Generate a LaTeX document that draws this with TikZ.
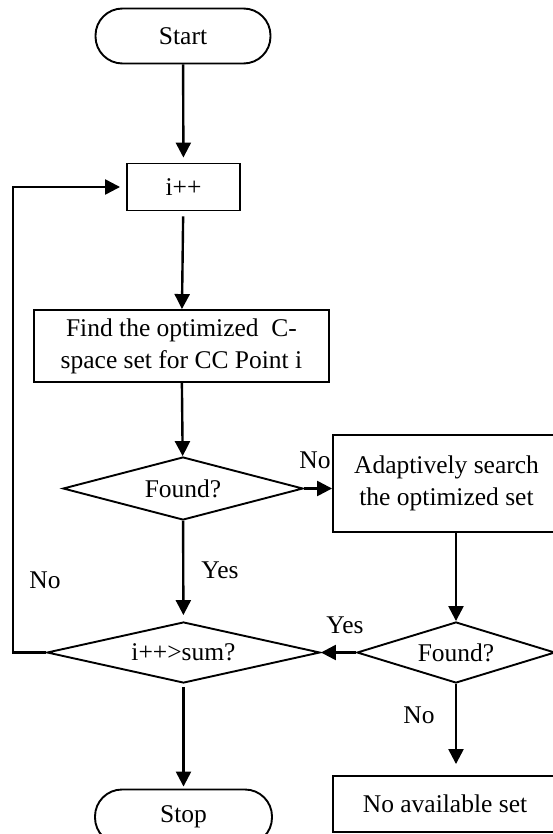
\documentclass[tikz,border=0pt]{standalone}
\usepackage{fontspec}
\setmainfont{Liberation Serif}
\usetikzlibrary{shapes.geometric,arrows.meta,calc}
\newcommand{\fs}{\fontsize{25.5}{32}\selectfont}
\tikzset{
  base/.style={draw, line width=1.9pt, font=\fs, inner sep=0pt, align=center},
  term/.style={base, rounded corners=27pt, minimum width=175pt, minimum height=55pt},
  proc/.style={base, rectangle},
  dec/.style={base, diamond, aspect=3.8},
  arr/.style={-{Triangle[length=15pt,width=15pt]}, line width=2.4pt},
  lbl/.style={font=\fs, inner sep=0pt}
}
\begin{document}
\begin{tikzpicture}[x=1pt,y=-1pt]
\useasboundingbox (0,0) rectangle (553,834);
\clip (0,0) rectangle (553,834);
\fill[white] (0,0) rectangle (553,834);

\node[term] (start) at (183,36) {Start};
\node[proc, minimum width=113pt, minimum height=47pt] (inc) at (183.5,187) {i++};
\node[proc, minimum width=295pt, minimum height=72pt] (find) at (181.5,346) {Find the optimized~~C-\\space set for CC Point i};
\node[dec, minimum width=240pt, minimum height=63pt] (d1) at (183,488.5) {Found?};
\node[proc, minimum width=227pt, minimum height=97pt] (adapt) at (446.5,483.5) {Adaptively search\\the optimized set};
\node[dec, minimum width=198pt, minimum height=61pt] (d2) at (456,652.5) {Found?};
\node[dec, minimum width=273pt, minimum height=61pt, aspect=4.5] (d3) at (183.5,652.5) {i++>sum?};
\node[proc, minimum width=224pt, minimum height=56pt] (none) at (445,804) {No available set};
\node[term, minimum width=177pt] (stop) at (183.5,817) {Stop};

\coordinate (lb) at (13,652.5);
\coordinate (lt) at (13,187);

\draw[arr, shorten >=5pt] (start) -- (inc);
\draw[arr, shorten <=5pt] (inc) -- (find);
\draw[arr] (find) -- (d1);
\draw[arr] (d1.east) -- (adapt.west |- d1.east);
\draw[arr, shorten >=6pt] (d1) -- (d3);
\draw[arr] (d2.north |- adapt.south) -- (d2.north);
\draw[arr] (d2.west) -- (d3.east);
\draw[arr, shorten >=11pt] (d2.south) -- (d2.south |- none.north);
\draw[arr, shorten <=3pt, shorten >=2pt] (d3) -- (stop);
\draw[arr, shorten >=6pt] (d3.west) -- (lb) -- (lt) -- (inc.west);

\node[lbl] (lno1) at (315,460) {No};
\node[lbl] (lyes1) at (220,570) {Yes};
\node[lbl] (lno2) at (45,580) {No};
\node[lbl] (lyes2) at (345,625) {Yes};
\node[lbl] (lno3) at (419,715) {No};
\end{tikzpicture}
\end{document}
